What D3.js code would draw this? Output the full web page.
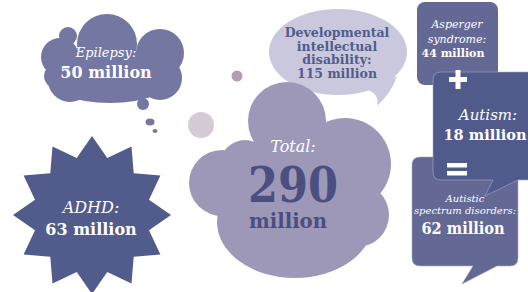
<!DOCTYPE html>
<html>
<head>
<meta charset="utf-8">
<script src="https://cdn.jsdelivr.net/npm/d3@7"></script>
<style>
  body { margin: 0; background: #fff; }
  svg { display: block; }
  text { font-family: "DejaVu Serif", serif; fill: #fff; }
</style>
</head>
<body>
<div id="chart"></div>
<script>
var width = 528, height = 292;

// conditions and prevalence (millions)
var names = ['Epilepsy:', 'ADHD:', 'Developmental intellectual disability:', 'Asperger syndrome:', 'Autism:', 'Autistic spectrum disorders:', 'Total:'];
var values = [50, 63, 115, 44, 18, 62, 290];
var unit = 'million';

var colors = d3.scaleOrdinal()
  .domain(names)
  .range(['#7577a3', '#515c8c', '#c9c8dc', '#646895', '#515b8b', '#646895', '#9d98b8']);

var svg = d3.select('#chart').append('svg')
  .attr('width', width)
  .attr('height', height);

// cloud lobes [cx, cy, rx, ry]
var epilepsyLobes = [
  [60, 57, 19, 19], [68, 36, 9, 9], [107, 44, 30, 30], [160, 53, 24, 24],
  [110, 76, 66, 27], [70, 80, 22, 22], [160, 78, 22, 22], [143, 104, 6, 6],
  [150, 122, 4.5, 3.5], [155, 131, 2.5, 2]
];
var totalLobes = [
  [287, 121, 39, 39], [345, 164, 46, 46], [222, 183, 33, 33], [295, 222, 78, 56],
  [357, 215, 32, 32], [245, 165, 25, 25], [295, 180, 50, 50]
];

function cloud(lobes, color) {
  svg.append('g').selectAll('ellipse')
    .data(lobes)
    .enter().append('ellipse')
    .attr('cx', d => d[0]).attr('cy', d => d[1])
    .attr('rx', d => d[2]).attr('ry', d => d[3])
    .style('fill', color);
}

// small decorative dots
svg.append('circle').attr('cx', 237).attr('cy', 76).attr('r', 5.5).style('fill', '#b29db3');
svg.append('circle').attr('cx', 201).attr('cy', 125).attr('r', 13).style('fill', '#d4cbd6');

cloud(epilepsyLobes, colors(names[0]));

// ADHD star
var star = d3.lineRadial()
  .angle((d, i) => i * Math.PI / 12)
  .radius((d, i) => i % 2 === 0 ? 79 : 59)
  .curve(d3.curveLinearClosed);
svg.append('path')
  .attr('transform', 'translate(92,215)')
  .attr('d', star(d3.range(24)))
  .style('fill', colors(names[1]));

// developmental speech bubble
svg.append('path')
  .attr('d', 'M368,90 Q380,95 377,106 Q392,92 397,76 Z')
  .style('fill', colors(names[2]));
svg.append('ellipse')
  .attr('cx', 338).attr('cy', 52).attr('rx', 69).attr('ry', 43)
  .style('fill', colors(names[2]));

cloud(totalLobes, colors(names[6]));

// asperger box
svg.append('rect')
  .attr('x', 417).attr('y', 2).attr('width', 81).attr('height', 83).attr('rx', 8)
  .style('fill', colors(names[3]));

// ASD box with tail
svg.append('path')
  .attr('d', 'M412,165 Q412,157 420,157 L510,157 Q518,157 518,165 L518,258 Q518,266 510,266 L497,266 L462,284 L473,266 L420,266 Q412,266 412,258 Z')
  .style('fill', colors(names[5]))
  .style('stroke', '#a7abc8').style('stroke-width', 0.6);

// autism box with tail
svg.append('path')
  .attr('d', 'M433,80 Q433,72 441,72 L540,72 L540,180 L518,180 L485,196 L493,180 L441,180 Q433,180 433,172 Z')
  .style('fill', colors(names[4]))
  .style('stroke', '#a7abc8').style('stroke-width', 0.6);

// operators
svg.append('rect').attr('x', 449).attr('y', 77).attr('width', 18).attr('height', 5).style('fill', '#fff');
svg.append('rect').attr('x', 455.5).attr('y', 70).attr('width', 5).attr('height', 19).style('fill', '#fff');
svg.append('rect').attr('x', 447).attr('y', 163).attr('width', 20).attr('height', 4.5).style('fill', '#fff');
svg.append('rect').attr('x', 447).attr('y', 171).attr('width', 20).attr('height', 4.5).style('fill', '#fff');

function label(x, y, txt, size, italic, bold, color, len) {
  var t = svg.append('text')
    .attr('x', x).attr('y', y)
    .attr('text-anchor', 'middle')
    .style('font-size', size + 'px')
    .style('font-style', italic ? 'italic' : 'normal')
    .style('font-weight', bold ? 'bold' : 'normal')
    .style('fill', color || '#fff')
    .text(txt);
  if (len) t.attr('textLength', len).attr('lengthAdjust', 'spacingAndGlyphs');
}

var num = i => values[i] + ' ' + unit;

label(106, 57, names[0], 13, true, false);
label(106, 78, num(0), 16, false, true);

label(91, 213, names[1], 16, true, false);
label(91, 235, num(1), 16, false, true);

var dev = names[2].split(' ');
var devColor = colors(names[1]);
label(337, 37, dev[0], 12.5, false, true, devColor);
label(337, 50.5, dev[1], 12.5, false, true, devColor);
label(337, 64, dev[2], 12.5, false, true, devColor);
label(337, 77.5, num(2), 12.5, false, true, devColor);

var asp = names[3].split(' ');
label(457, 28, asp[0], 11, true, false);
label(457, 43, asp[1], 11, true, false);
label(453, 57, num(3), 11, false, true);

label(488, 120, names[4], 15, true, false);
label(485, 140, num(4), 15, false, true, null, 83);

var asd = names[5].split(' ');
label(465, 202, asd[0], 10, true, false);
label(465, 214, asd[1] + ' ' + asd[2], 10, true, false);
label(463, 234, num(5), 16, false, true, null, 83);

label(293, 152, names[6], 16, true, false);
label(293, 202, values[6], 49, false, true, '#4b4e80', 90);
label(288, 228, unit, 21, false, true, '#4b4e80', 78);
</script>
</body>
</html>
